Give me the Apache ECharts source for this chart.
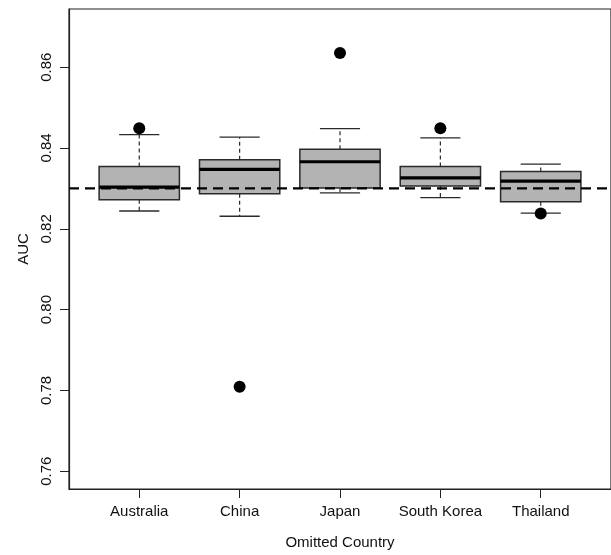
<!DOCTYPE html>
<html>
<head>
<meta charset="utf-8">
<script src="https://cdn.jsdelivr.net/npm/echarts@6/dist/echarts.min.js"></script>
<style>html,body{margin:0;padding:0;background:#fff}#c{width:611px;height:555px}</style>
</head>
<body>
<div id="c"></div>
<script>
const categories = ['Australia', 'China', 'Japan', 'South Korea', 'Thailand'];
const lowerWhisker = [0.8244, 0.8231, 0.8289, 0.8277, 0.8239];
const q1 = [0.8272, 0.8287, 0.8301, 0.8306, 0.8267];
const median = [0.8303, 0.8347, 0.8366, 0.8326, 0.8318];
const q3 = [0.8354, 0.8371, 0.8397, 0.8354, 0.8342];
const upperWhisker = [0.8433, 0.8427, 0.8448, 0.8425, 0.8360];
const outliers = [[1, 0.8449], [2, 0.7809], [3, 0.8635], [4, 0.8449], [5, 0.8238]];
const referenceAUC = 0.83;
const yTicks = [0.76, 0.78, 0.80, 0.82, 0.84, 0.86];

const boxData = categories.map((c, i) => [i + 1, lowerWhisker[i], q1[i], median[i], q3[i], upperWhisker[i]]);

const chart = echarts.init(document.getElementById('c'), null, {renderer: 'canvas'});
const textColor = '#111';
const font = 'Liberation Sans, Arial, Helvetica, sans-serif';

function renderBox(params, api) {
  const x = api.value(0);
  const lo = api.coord([x, api.value(1)]);
  const b1 = api.coord([x, api.value(2)]);
  const md = api.coord([x, api.value(3)]);
  const b3 = api.coord([x, api.value(4)]);
  const hi = api.coord([x, api.value(5)]);
  const w = api.size([0.8, 0])[0];
  const cw = w / 2;
  const cx = lo[0];
  const stroke = '#2a2a2a';
  return {
    type: 'group',
    children: [
      {type: 'line', shape: {x1: cx, y1: b3[1], x2: cx, y2: hi[1]}, style: {stroke: stroke, lineWidth: 1.2, lineDash: [4, 3]}},
      {type: 'line', shape: {x1: cx, y1: b1[1], x2: cx, y2: lo[1]}, style: {stroke: stroke, lineWidth: 1.2, lineDash: [4, 3]}},
      {type: 'line', shape: {x1: cx - cw / 2, y1: hi[1], x2: cx + cw / 2, y2: hi[1]}, style: {stroke: stroke, lineWidth: 1.3}},
      {type: 'line', shape: {x1: cx - cw / 2, y1: lo[1], x2: cx + cw / 2, y2: lo[1]}, style: {stroke: stroke, lineWidth: 1.3}},
      {type: 'rect', shape: {x: cx - w / 2, y: b3[1], width: w, height: b1[1] - b3[1]}, style: {fill: '#b3b3b3', stroke: stroke, lineWidth: 1.5}},
      {type: 'line', shape: {x1: cx - w / 2, y1: md[1], x2: cx + w / 2, y2: md[1]}, style: {stroke: '#000', lineWidth: 3.2}}
    ]
  };
}

chart.setOption({
  animation: false,
  backgroundColor: '#fff',
  grid: {left: 69, top: 9, width: 546, height: 485, show: true, borderColor: '#222', borderWidth: 1.2, backgroundColor: 'transparent'},
  xAxis: {
    type: 'value', min: 0.3, max: 5.7,
    name: 'Omitted Country', nameLocation: 'middle', nameGap: 46,
    nameTextStyle: {fontFamily: font, fontSize: 15, color: textColor},
    splitLine: {show: false},
    axisLine: {show: true, onZero: false, lineStyle: {color: '#222', width: 1.2}},
    axisTick: {show: true, length: 9, lineStyle: {color: '#222', width: 1}, customValues: [1, 2, 3, 4, 5]},
    axisLabel: {fontFamily: font, fontSize: 15, color: textColor, margin: 15, customValues: [1, 2, 3, 4, 5],
      formatter: v => categories[Math.round(v) - 1] || ''}
  },
  yAxis: {
    type: 'value', min: 0.7556, max: 0.8744,
    name: 'AUC', nameLocation: 'middle', nameGap: 38, nameRotate: 90,
    nameTextStyle: {fontFamily: font, fontSize: 15, color: textColor},
    splitLine: {show: false},
    axisLine: {show: true, lineStyle: {color: '#222', width: 1.2}},
    axisTick: {show: true, length: 9, lineStyle: {color: '#222', width: 1}, customValues: yTicks},
    axisLabel: {fontFamily: font, fontSize: 15, color: textColor, rotate: 90, margin: 15, customValues: yTicks,
      formatter: v => v.toFixed(2)}
  },
  series: [
    {
      type: 'custom', renderItem: renderBox, data: boxData, z: 2,
      encode: {x: 0, y: [1, 2, 3, 4, 5]}
    },
    {
      type: 'line', data: [[0.3, referenceAUC], [5.7, referenceAUC]], symbol: 'none', silent: true, z: 10,
      lineStyle: {color: '#000', width: 2.2, type: [10, 6]}
    },
    {
      type: 'scatter', data: outliers, symbol: 'circle', symbolSize: 12, z: 11,
      itemStyle: {color: '#000', opacity: 1}
    }
  ]
});
</script>
</body>
</html>
